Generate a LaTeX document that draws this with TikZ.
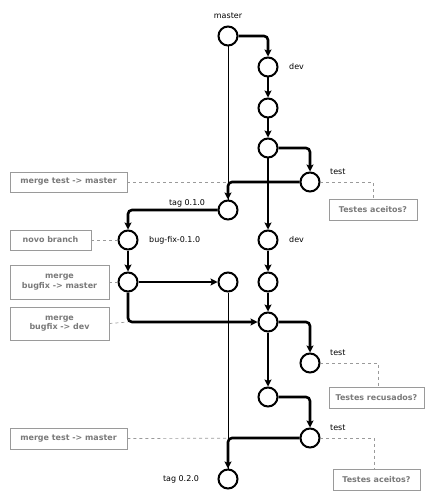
\documentclass[tikz,border=0pt]{standalone}
\usepackage{fontspec}
\setmainfont{DejaVu Sans}
\usepackage{tikz}
\usetikzlibrary{arrows.meta}

\definecolor{notegray}{HTML}{9A9A9A}
\definecolor{notetext}{HTML}{7A7A7A}

\begin{document}
\begin{tikzpicture}[x=1bp,y=-1bp,
font=\fontsize{8}{9.5}\selectfont,
commitnode/.style={circle, draw=black, fill=white, line width=2bp, inner sep=0pt, minimum size=19bp},
notenode/.style={rectangle, draw=notegray, fill=white, line width=0.9bp, text=notetext, font=\fontsize{8}{9.5}\selectfont\bfseries, align=center, inner sep=0pt},
labelnode/.style={inner sep=0pt, anchor=west},
flow arrow/.style={-{Stealth[length=7bp,width=7bp,inset=1.5bp]}, line width=2.6bp, rounded corners=4bp},
master line/.style={line width=0.8bp},
note line/.style={draw=notegray, dashed, line width=0.7bp}
]
\useasboundingbox (0,0) rectangle (434,500);

%Commits
\node[commitnode] at (228,36) (MASTER) {};
\node[commitnode] at (268,67) (DEV) {};
\node[commitnode] at (268,108) (DEV-1) {};
\node[commitnode] at (268,148) (DEV-2) {};
\node[commitnode] at (310,182) (TEST) {};
\node[commitnode] at (228,210) (TAG-1) {};
\node[commitnode] at (128,240) (BUGFIX) {};
\node[commitnode] at (268,240) (DEV-3) {};
\node[commitnode] at (128,282) (BUGFIX-1) {};
\node[commitnode] at (228,282) (MASTER-1) {};
\node[commitnode] at (268,282) (DEV-4) {};
\node[commitnode] at (268,322) (DEV-5) {};
\node[commitnode] at (310,363) (TEST-1) {};
\node[commitnode] at (268,397) (DEV-6) {};
\node[commitnode] at (310,438) (TEST-2) {};
\node[commitnode] at (228,479) (TAG-2) {};

%Labels
\node[inner sep=0pt] at (228,16) (L-MASTER) {master};
\node[labelnode] at (289,67) (L-DEV) {dev};
\node[labelnode] at (330,172) (L-TEST) {test};
\node[inner sep=0pt] at (187,203) (L-TAG) {tag 0.1.0};
\node[labelnode] at (149,240) (L-BUGFIX) {bug-fix-0.1.0};
\node[labelnode] at (289,240) (L-DEV-1) {dev};
\node[labelnode] at (330,353) (L-TEST-1) {test};
\node[labelnode] at (330,428) (L-TEST-2) {test};
\node[inner sep=0pt] at (181,479) (L-TAG-1) {tag 0.2.0};

%Notes
\node[notenode, minimum width=117bp, minimum height=20bp] at (68.5,182) (N-MERGE) {merge test -> master};
\node[notenode, minimum width=88bp, minimum height=21bp] at (373,210) (N-OK) {Testes aceitos?};
\node[notenode, minimum width=81bp, minimum height=20bp] at (50.5,240) (N-BRANCH) {novo branch};
\node[notenode, minimum width=99bp, minimum height=34bp] at (59.5,282) (N-BFMASTER) {merge\\bugfix -> master};
\node[notenode, minimum width=99bp, minimum height=33bp] at (59.5,323.5) (N-BFDEV) {merge\\bugfix -> dev};
\node[notenode, minimum width=95bp, minimum height=21bp] at (376.5,397.5) (N-FAIL) {Testes recusados?};
\node[notenode, minimum width=117bp, minimum height=21bp] at (68.5,438.5) (N-MERGE-1) {merge test -> master};
\node[notenode, minimum width=87bp, minimum height=21bp] at (376.5,479.5) (N-OK-1) {Testes aceitos?};

\coordinate (CORNER) at (BUGFIX-1 |- DEV-5);

%Note lines
\draw[note line] (N-MERGE.east) -- (TEST.west);
\draw[note line] (TEST.east) -| (N-OK.north);
\draw[note line] (N-BRANCH.east) -- (BUGFIX.west);
\draw[note line] (N-BFMASTER.east) -- (BUGFIX-1.west);
\draw[note line] (N-BFDEV.east) -- (CORNER);
\draw[note line] (TEST-1.east) -| ([xshift=2bp]N-FAIL.north);
\draw[note line] (N-MERGE-1.east) -- (TEST-2.west);
\draw[note line] (TEST-2.east) -| ([xshift=-2bp]N-OK-1.north);

%Master lines
\draw[master line] (MASTER.south) -- (TAG-1.north);
\draw[master line] (MASTER-1.south) -- (TAG-2.north);

%Flow
\draw[flow arrow] (MASTER.east) -| (DEV.north);
\draw[flow arrow] (DEV.south) -- (DEV-1.north);
\draw[flow arrow] (DEV-1.south) -- (DEV-2.north);
\draw[flow arrow] (DEV-2.east) -| (TEST.north);
\draw[flow arrow] (DEV-2.south) -- (DEV-3.north);
\draw[flow arrow] (TEST.west) -| (TAG-1.north);
\draw[flow arrow] (TAG-1.west) -| (BUGFIX.north);
\draw[flow arrow] (BUGFIX.south) -- (BUGFIX-1.north);
\draw[flow arrow] (BUGFIX-1.east) -- (MASTER-1.west);
\draw[flow arrow] (BUGFIX-1.south) |- (DEV-5.west);
\draw[flow arrow] (DEV-3.south) -- (DEV-4.north);
\draw[flow arrow] (DEV-4.south) -- (DEV-5.north);
\draw[flow arrow] (DEV-5.east) -| (TEST-1.north);
\draw[flow arrow] (DEV-5.south) -- (DEV-6.north);
\draw[flow arrow] (DEV-6.east) -| (TEST-2.north);
\draw[flow arrow] (TEST-2.west) -| (TAG-2.north);
\end{tikzpicture}
\end{document}
